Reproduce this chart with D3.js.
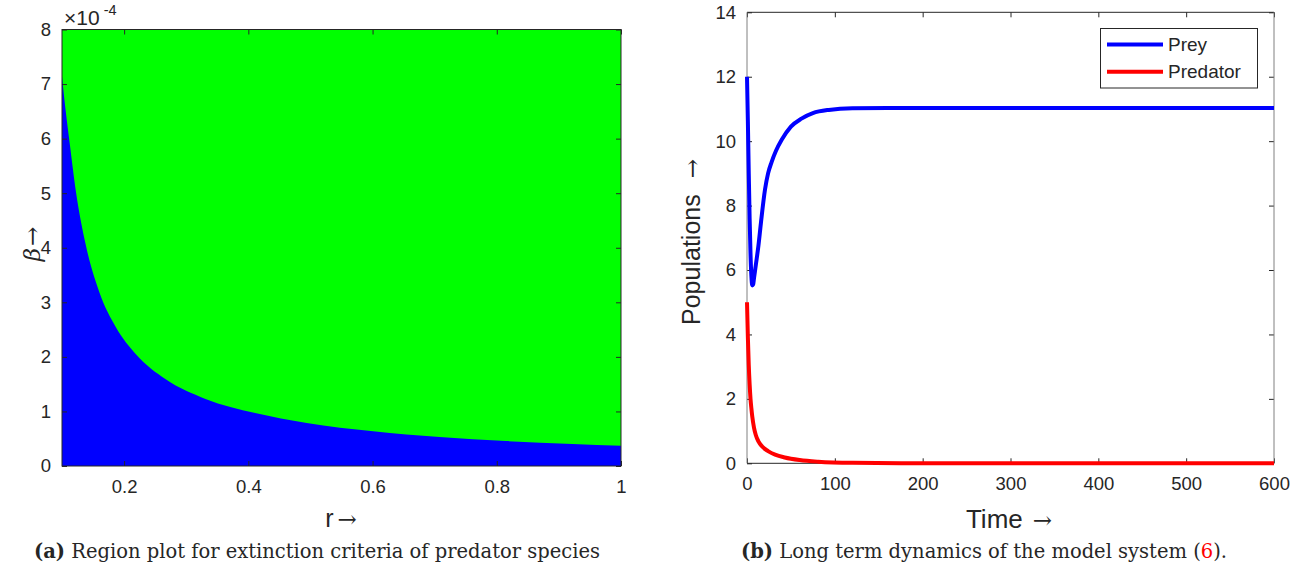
<!DOCTYPE html>
<html>
<head>
<meta charset="utf-8">
<script src="https://cdn.jsdelivr.net/npm/d3@7"></script>
<style>
  body { margin: 0; background: #fff; }
  svg text { fill: #262626; }
</style>
</head>
<body>
<div id="chart"></div>
<script>
// region plot boundary (beta in units of 1e-4)
var rVals    = [0.1, 0.106, 0.112, 0.1225, 0.1385, 0.16, 0.187, 0.219, 0.267, 0.331, 0.411, 0.494, 0.601, 0.708, 0.815, 0.922, 1.0],
    betaVals = [7.14, 6.5, 5.95, 5.02, 4.04, 3.19, 2.54, 2.05, 1.59, 1.23, 0.97, 0.79, 0.636, 0.531, 0.456, 0.401, 0.37],
    rTicks = [0.2, 0.4, 0.6, 0.8, 1],
    betaTicks = [0, 1, 2, 3, 4, 5, 6, 7, 8];

// time series
var preyT    = [0, 1, 2, 3, 4, 5, 6, 7, 8, 10, 13, 16, 20.5, 24, 28, 33, 39.5, 50, 62, 75, 93, 120, 200, 400, 600],
    preyVals = [12, 10.6, 9.0, 7.6, 6.5, 5.8, 5.52, 5.55, 5.75, 6.15, 6.75, 7.5, 8.5, 9.0, 9.35, 9.7, 10.04, 10.45, 10.7, 10.87, 10.97, 11.02, 11.03, 11.03, 11.03],
    predT    = [0, 1, 2, 3, 4, 5, 6, 8, 10, 13, 17, 24, 32, 43, 60, 81, 120, 200, 600],
    predVals = [5, 3.9, 3.05, 2.45, 2.0, 1.7, 1.45, 1.1, 0.88, 0.68, 0.53, 0.38, 0.27, 0.18, 0.1, 0.05, 0.015, 0, 0],
    timeTicks = [0, 100, 200, 300, 400, 500, 600],
    popTicks = [0, 2, 4, 6, 8, 10, 12, 14],
    seriesNames = ['Prey', 'Predator'],
    seriesColors = ['#0000ff', '#ff0000'];

var svg = d3.select('#chart').append('svg')
  .attr('width', 1308)
  .attr('height', 571);

var tickFont = 'Liberation Sans, Arial, sans-serif',
    serif = 'DejaVu Serif, serif';

// ---------- left panel ----------
var xL = d3.scaleLinear().domain([0.1, 1]).range([62, 621]),
    yL = d3.scaleLinear().domain([0, 8]).range([466, 29.5]);

var gL = svg.append('g');

gL.append('rect')
  .attr('x', xL(0.1)).attr('y', yL(8))
  .attr('width', xL(1) - xL(0.1)).attr('height', yL(0) - yL(8))
  .attr('fill', '#00ff00');

var area = d3.area()
  .x(function (d, i) { return xL(rVals[i]); })
  .y0(yL(0))
  .y1(function (d) { return yL(d); })
  .curve(d3.curveMonotoneX);

gL.append('path')
  .datum(betaVals)
  .attr('d', area)
  .attr('fill', '#0000ff');

function styleAxis(g) {
  g.select('.domain').remove();
  g.selectAll('.tick line').attr('stroke', '#262626');
  g.selectAll('.tick text')
    .attr('font-family', tickFont)
    .attr('font-size', 18.5)
    .attr('fill', '#262626');
}

gL.append('g')
  .attr('transform', 'translate(0,' + yL(0) + ')')
  .call(d3.axisBottom(xL).tickValues(rTicks).tickSize(-5).tickPadding(14).tickFormat(d3.format('')))
  .call(styleAxis);
gL.append('g')
  .attr('transform', 'translate(' + xL(0.1) + ',0)')
  .call(d3.axisLeft(yL).tickValues(betaTicks).tickSize(-5).tickPadding(11))
  .call(styleAxis);
gL.append('g')
  .attr('transform', 'translate(0,' + yL(8) + ')')
  .call(d3.axisTop(xL).tickValues(rTicks).tickSize(-5).tickFormat(''))
  .call(styleAxis);
gL.append('g')
  .attr('transform', 'translate(' + xL(1) + ',0)')
  .call(d3.axisRight(yL).tickValues(betaTicks).tickSize(-5).tickFormat(''))
  .call(styleAxis);

gL.append('rect')
  .attr('x', xL(0.1)).attr('y', yL(8))
  .attr('width', xL(1) - xL(0.1)).attr('height', yL(0) - yL(8))
  .attr('fill', 'none').attr('stroke', '#262626').attr('stroke-width', 1);

// exponent label
var expT = gL.append('text')
  .attr('x', 64).attr('y', 24.5)
  .attr('font-family', tickFont).attr('font-size', 21);
expT.append('tspan').text('\u00d710');
expT.append('tspan').attr('dy', -9.5).attr('dx', 4).attr('font-size', 14.5).text('-4');

// axis labels
gL.append('text')
  .attr('transform', 'translate(40,244) rotate(-90)')
  .attr('text-anchor', 'middle')
  .attr('font-size', 23)
  .html('<tspan font-family="' + serif + '" font-style="italic">\u03b2</tspan><tspan font-family="' + serif + '" dx="2">\u2192</tspan>');

gL.append('text')
  .attr('x', 341).attr('y', 527)
  .attr('text-anchor', 'middle')
  .attr('font-size', 25)
  .html('<tspan font-family="' + tickFont + '">r</tspan><tspan font-family="' + serif + '" font-size="23" dx="4">\u2192</tspan>');

// ---------- right panel ----------
var xR = d3.scaleLinear().domain([0, 600]).range([747, 1274]),
    yR = d3.scaleLinear().domain([0, 14]).range([463.3, 12.3]);

var gR = svg.append('g');

gR.append('g')
  .attr('transform', 'translate(0,' + yR(0) + ')')
  .call(d3.axisBottom(xR).tickValues(timeTicks).tickSize(-5).tickPadding(14))
  .call(styleAxis);
gR.append('g')
  .attr('transform', 'translate(' + xR(0) + ',0)')
  .call(d3.axisLeft(yR).tickValues(popTicks).tickSize(-5).tickPadding(11))
  .call(styleAxis);
gR.append('g')
  .attr('transform', 'translate(0,' + yR(14) + ')')
  .call(d3.axisTop(xR).tickValues(timeTicks).tickSize(-5).tickFormat(''))
  .call(styleAxis);
gR.append('g')
  .attr('transform', 'translate(' + xR(600) + ',0)')
  .call(d3.axisRight(yR).tickValues(popTicks).tickSize(-5).tickFormat(''))
  .call(styleAxis);

// box: top/bottom darker, sides gray
gR.append('line').attr('x1', xR(0)).attr('x2', xR(600)).attr('y1', yR(14)).attr('y2', yR(14)).attr('stroke', '#262626');
gR.append('line').attr('x1', xR(0)).attr('x2', xR(600)).attr('y1', yR(0)).attr('y2', yR(0)).attr('stroke', '#262626');
gR.append('line').attr('x1', xR(0)).attr('x2', xR(0)).attr('y1', yR(14)).attr('y2', yR(0)).attr('stroke', '#808080');
gR.append('line').attr('x1', xR(600)).attr('x2', xR(600)).attr('y1', yR(14)).attr('y2', yR(0)).attr('stroke', '#808080');

var lineGen = function (ts) {
  return d3.line()
    .x(function (d, i) { return xR(ts[i]); })
    .y(function (d) { return yR(d); })
    .curve(d3.curveMonotoneX);
};

gR.append('path')
  .datum(predVals)
  .attr('d', lineGen(predT))
  .attr('fill', 'none')
  .attr('stroke', seriesColors[1])
  .attr('stroke-width', 4);

gR.append('path')
  .datum(preyVals)
  .attr('d', lineGen(preyT))
  .attr('fill', 'none')
  .attr('stroke', seriesColors[0])
  .attr('stroke-width', 4);

// legend
var leg = gR.append('g');
leg.append('rect')
  .attr('x', 1100.5).attr('y', 28.5).attr('width', 157).attr('height', 59.5)
  .attr('fill', '#fff').attr('stroke', '#262626').attr('stroke-width', 1);
seriesNames.forEach(function (name, i) {
  var yy = 44.5 + i * 27.3;
  leg.append('line')
    .attr('x1', 1107).attr('x2', 1163).attr('y1', yy).attr('y2', yy)
    .attr('stroke', seriesColors[i]).attr('stroke-width', 4);
  leg.append('text')
    .attr('x', 1168).attr('y', yy + 6.5)
    .attr('font-family', tickFont).attr('font-size', 19)
    .attr('fill', '#000')
    .text(name);
});

gR.append('text')
  .attr('transform', 'translate(700,242) rotate(-90)')
  .attr('text-anchor', 'middle')
  .attr('font-size', 25)
  .html('<tspan font-family="' + tickFont + '">Populations</tspan><tspan font-family="' + serif + '" font-size="23" dx="16">\u2192</tspan>');

gR.append('text')
  .attr('x', 1009).attr('y', 528)
  .attr('text-anchor', 'middle')
  .attr('font-size', 26)
  .html('<tspan font-family="' + tickFont + '">Time</tspan><tspan font-family="' + serif + '" font-size="23" dx="10">\u2192</tspan>');

// ---------- captions ----------
svg.append('text')
  .attr('x', 317).attr('y', 558)
  .attr('text-anchor', 'middle')
  .attr('font-family', serif)
  .attr('font-size', 19.5)
  .attr('fill', '#222')
  .html('<tspan font-weight="bold">(a)</tspan> Region plot for extinction criteria of predator species');

svg.append('text')
  .attr('x', 984).attr('y', 558)
  .attr('text-anchor', 'middle')
  .attr('font-family', serif)
  .attr('font-size', 19.5)
  .attr('fill', '#222')
  .html('<tspan font-weight="bold">(b)</tspan> Long term dynamics of the model system (<tspan fill="#ff0000">6</tspan>).');
</script>
</body>
</html>
